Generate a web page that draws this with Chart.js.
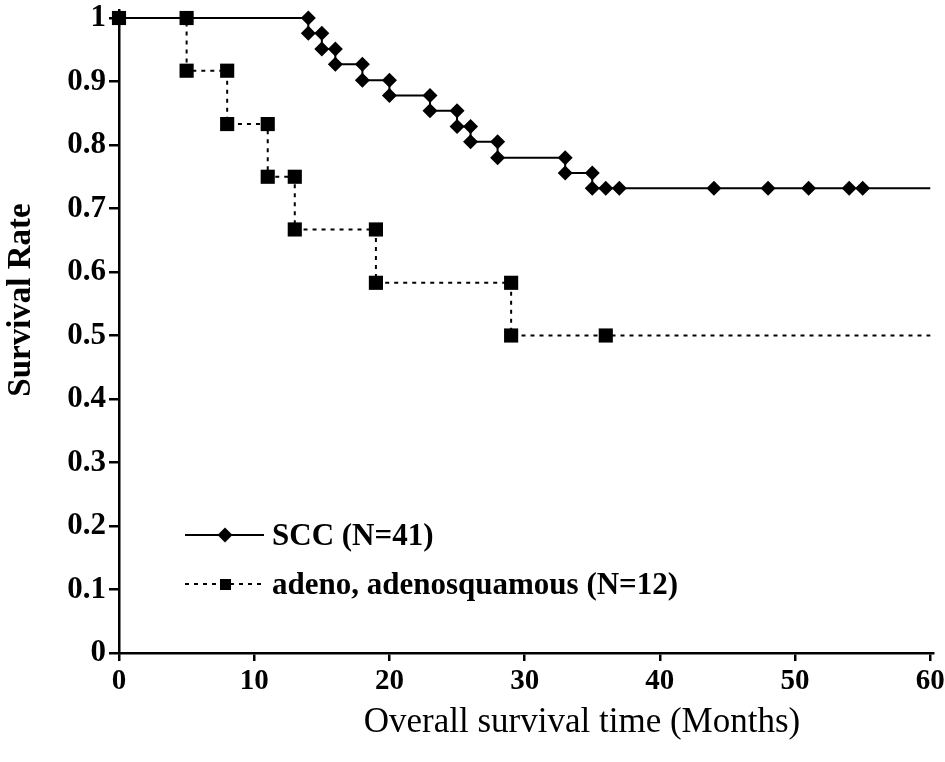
<!DOCTYPE html>
<html><head><meta charset="utf-8">
<script src="https://cdn.jsdelivr.net/npm/chart.js@4.4.1/dist/chart.umd.min.js"></script>
<style>html,body{margin:0;padding:0;background:#fff;} canvas{display:block;}</style>
</head><body>
<canvas id="c" width="945" height="762"></canvas>
<script>
// ---- data (Kaplan-Meier step corners) ----
const sccMonths = [0, 14, 14, 15, 15, 16, 16, 18, 18, 20, 20, 23, 23, 25, 25, 26, 26, 28, 28, 33, 33, 35, 35, 36, 37, 44, 48, 51, 54, 55, 60];
const sccRate   = [1, 1, 0.976, 0.976, 0.951, 0.951, 0.927, 0.927, 0.902, 0.902, 0.878, 0.878, 0.854, 0.854, 0.829, 0.829, 0.805, 0.805, 0.780, 0.780, 0.756, 0.756, 0.732, 0.732, 0.732, 0.732, 0.732, 0.732, 0.732, 0.732, 0.732];
const adenoMonths = [0, 5, 5, 8, 8, 11, 11, 13, 13, 19, 19, 29, 29, 36, 60];
const adenoRate   = [1, 1, 0.917, 0.917, 0.833, 0.833, 0.750, 0.750, 0.667, 0.667, 0.583, 0.583, 0.500, 0.500, 0.500];
const xTicks = [0, 10, 20, 30, 40, 50, 60];
const yTicks = [0, 0.1, 0.2, 0.3, 0.4, 0.5, 0.6, 0.7, 0.8, 0.9, 1];
const yTickLabels = ['0', '0.1', '0.2', '0.3', '0.4', '0.5', '0.6', '0.7', '0.8', '0.9', '1'];
const seriesLabels = ['SCC (N=41)', 'adeno, adenosquamous (N=12)'];
const xTitle = 'Overall survival time (Months)';
const yTitle = 'Survival Rate';

const SERIF = '"Liberation Serif", "Times New Roman", Times, serif';
Chart.defaults.font.family = SERIF;
Chart.defaults.color = '#000';

function pts(xs, ys) { return xs.map((x, i) => ({ x: x, y: ys[i] })); }
function radiusFn(r) { return ctx => (ctx.dataIndex === ctx.dataset.data.length - 1 ? 0 : r); }

const titlesPlugin = {
  id: 'titles',
  afterDraw(chart) {
    const ctx = chart.ctx;
    ctx.save();
    ctx.fillStyle = '#000';
    ctx.textAlign = 'center';
    ctx.textBaseline = 'middle';
    ctx.font = '35px ' + SERIF;
    ctx.fillText(xTitle, 582, 723);
    ctx.translate(21, 300);
    ctx.rotate(-Math.PI / 2);
    ctx.font = 'bold 33px ' + SERIF;
    ctx.fillText(yTitle, 0, 0);
    ctx.restore();
  }
};

const legendPlugin = {
  id: 'kmLegend',
  afterDraw(chart) {
    const ctx = chart.ctx;
    const rows = [535, 584];
    ctx.save();
    chart.data.datasets.forEach((ds, i) => {
      const y = rows[i];
      ctx.strokeStyle = '#000';
      ctx.lineWidth = 2;
      ctx.setLineDash(ds.borderDash || []);
      ctx.beginPath();
      ctx.moveTo(185, y); ctx.lineTo(264, y);
      ctx.stroke();
      ctx.setLineDash([]);
      ctx.fillStyle = '#000';
      ctx.beginPath();
      if (ds.pointStyle === 'rectRot') {
        const r = 7.5;
        ctx.moveTo(225, y - r); ctx.lineTo(225 + r, y); ctx.lineTo(225, y + r); ctx.lineTo(225 - r, y); ctx.closePath();
      } else {
        ctx.rect(220, y - 5, 11, 11);
      }
      ctx.fill();
      ctx.font = 'bold 31px ' + SERIF;
      ctx.textAlign = 'left';
      ctx.textBaseline = 'alphabetic';
      ctx.fillText(ds.label, 272, y + 10);
    });
    ctx.restore();
  }
};

new Chart(document.getElementById('c'), {
  type: 'scatter',
  data: {
    datasets: [
      {
        label: seriesLabels[0],
        data: pts(sccMonths, sccRate),
        showLine: true,
        borderColor: '#000',
        borderWidth: 2,
        tension: 0,
        pointStyle: 'rectRot',
        pointRadius: radiusFn(7.5),
        pointBackgroundColor: '#000',
        pointBorderWidth: 0,
        clip: false,
        order: 1
      },
      {
        label: seriesLabels[1],
        data: pts(adenoMonths, adenoRate),
        showLine: true,
        borderColor: '#000',
        borderWidth: 2,
        borderDash: [4, 5],
        tension: 0,
        pointStyle: 'rect',
        pointRadius: radiusFn(10),
        pointBackgroundColor: '#000',
        pointBorderWidth: 0,
        clip: false,
        order: 0
      }
    ]
  },
  options: {
    responsive: false,
    animation: false,
    events: [],
    layout: { padding: { left: 0, top: 0, right: 12, bottom: 0 } },
    plugins: { legend: { display: false }, tooltip: { enabled: false } },
    scales: {
      x: {
        type: 'linear',
        min: 0, max: 60.2,
        afterBuildTicks: s => { s.ticks = xTicks.map(v => ({ value: v })); },
        afterFit: s => { s.height = 109; s.paddingLeft = 0; s.paddingRight = 0; },
        ticks: { font: { size: 29, weight: 'bold' }, color: '#000', padding: 3, maxRotation: 0, autoSkip: false },
        grid: { drawOnChartArea: false, drawTicks: true, tickLength: 8, color: '#000', lineWidth: 2.5 },
        border: { display: true, color: '#000', width: 2.5 }
      },
      y: {
        type: 'linear',
        min: 0, max: 1.0126,
        afterBuildTicks: s => { s.ticks = yTicks.map(v => ({ value: v })); },
        afterFit: s => { s.width = 119; s.paddingTop = 0; s.paddingBottom = 0; },
        ticks: { font: { size: 31, weight: 'bold' }, color: '#000', padding: 3, autoSkip: false,
                 callback: (v, i) => yTickLabels[i] },
        grid: { drawOnChartArea: false, drawTicks: true, tickLength: 10, color: '#000', lineWidth: 2.5 },
        border: { display: true, color: '#000', width: 2.5 }
      }
    }
  },
  plugins: [titlesPlugin, legendPlugin]
});
</script>
</body></html>
